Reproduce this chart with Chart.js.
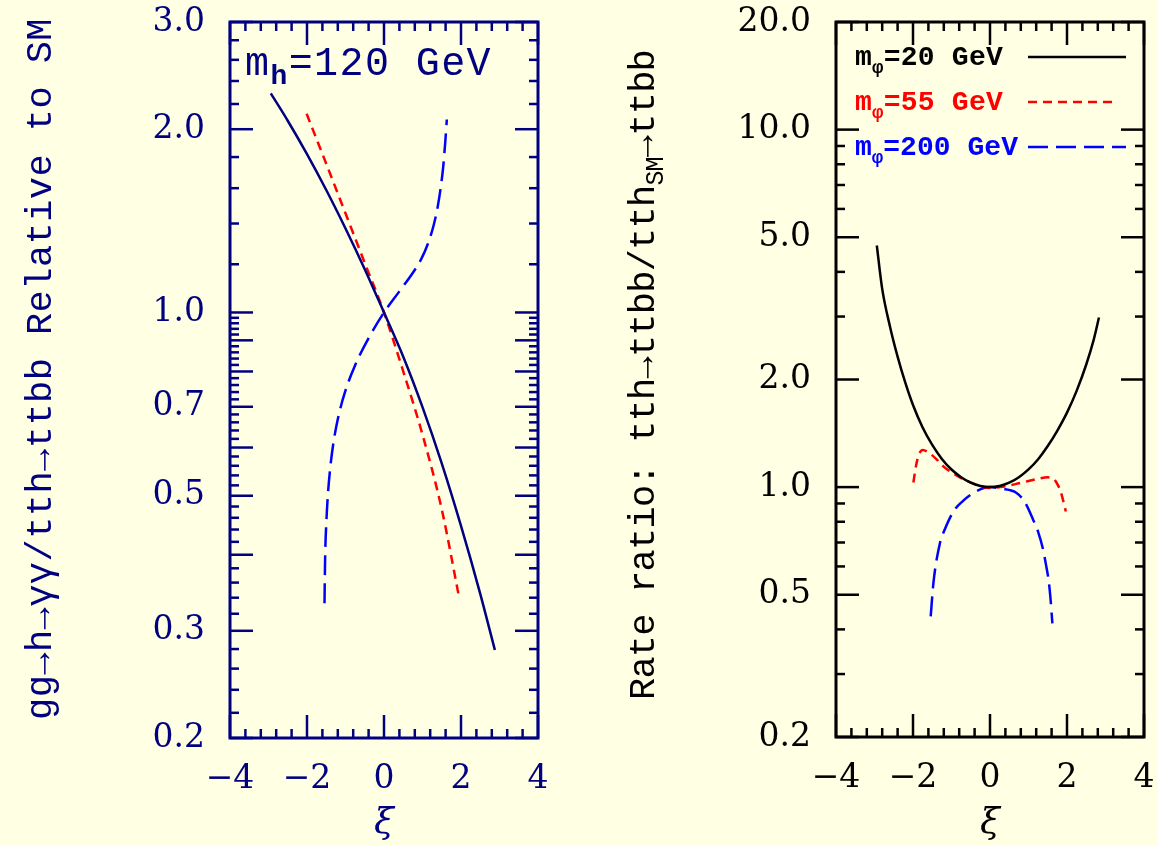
<!DOCTYPE html>
<html>
<head>
<meta charset="utf-8">
<script src="https://cdn.jsdelivr.net/npm/chart.js@4.4.0/dist/chart.umd.min.js"></script>
<style>
  html, body { margin: 0; padding: 0; background: #ffffe4; }
  #wrap { position: relative; width: 1158px; height: 846px; overflow: hidden; }
  canvas { position: absolute; top: 0; }
  #leftChart { left: 0; }
  #rightChart { left: 580px; }
</style>
</head>
<body>
<div id="wrap">
  <canvas id="leftChart" width="580" height="846"></canvas>
  <canvas id="rightChart" width="578" height="846"></canvas>
</div>
<script>
const NAVY = '#000080'
const SERIF = 'DejaVu Serif'
const MONO = 'Liberation Mono'

// left panel, m_h = 120 GeV
const leftXiSolid = [-2.94, -2.5, -2.0, -1.5, -1.0, -0.5, 0, 0.5, 1.0, 1.5, 2.0, 2.5, 2.88]
const leftSolid = [2.29, 2.065, 1.82, 1.589, 1.374, 1.178, 1.0, 0.846, 0.699, 0.565, 0.446, 0.345, 0.279]
const leftXiRed = [-2.01, -1.5, -1.0, -0.5, 0, 0.5, 1.0, 1.5, 1.96]
const leftRed = [2.12, 1.755, 1.455, 1.206, 1.0, 0.80, 0.63, 0.475, 0.338]
const leftXiBlue = [-1.545, -1.537, -1.525, -1.50, -1.462, -1.405, -1.32, -1.195, -1.01, -0.75, -0.41, 0, 0.375, 0.75, 0.96, 1.14, 1.29, 1.395, 1.48, 1.537, 1.594, 1.632]
const leftBlue = [0.333, 0.368, 0.407, 0.449, 0.497, 0.549, 0.607, 0.670, 0.741, 0.819, 0.905, 1.0, 1.078, 1.162, 1.221, 1.297, 1.391, 1.492, 1.616, 1.733, 1.916, 2.075]

// right panel, m_phi = 20 / 55 / 200 GeV
const rightXiBlack = [-2.94, -2.8, -2.6, -2.4, -2.2, -2.0, -1.75, -1.5, -1.25, -1.0, -0.75, -0.5, -0.25, 0, 0.25, 0.5, 0.75, 1.0, 1.25, 1.5, 1.75, 2.0, 2.25, 2.5, 2.7, 2.83]
const rightBlack = [4.74, 3.585, 2.82, 2.318, 1.96, 1.697, 1.468, 1.312, 1.199, 1.12, 1.066, 1.029, 1.0075, 1.0, 1.0075, 1.029, 1.066, 1.121, 1.197, 1.303, 1.44, 1.616, 1.859, 2.203, 2.599, 2.98]
const rightXiRed = [-1.99, -1.92, -1.85, -1.75, -1.6, -1.4, -1.2, -1.0, -0.75, -0.5, -0.25, 0, 0.25, 0.5, 0.75, 1.0, 1.25, 1.5, 1.62, 1.75, 1.85, 1.97]
const rightRed = [1.03, 1.15, 1.23, 1.27, 1.25, 1.20, 1.14, 1.10, 1.06, 1.03, 1.005, 0.995, 1.0, 1.01, 1.025, 1.04, 1.055, 1.065, 1.06, 1.02, 0.96, 0.855]
const rightXiBlue = [-1.54, -1.47, -1.30, -1.2, -0.95, -0.7, -0.43, 0, 0.3, 0.69, 0.9, 1.12, 1.25, 1.38, 1.45, 1.52, 1.57, 1.62]
const rightBlue = [0.435, 0.539, 0.698, 0.75, 0.855, 0.915, 0.963, 1.0, 0.99, 0.963, 0.91, 0.811, 0.75, 0.668, 0.61, 0.551, 0.49, 0.416]

// axes
const xLabels = [-4, -2, 0, 2, 4]
const leftYLabels = [0.2, 0.3, 0.5, 0.7, 1, 2, 3]
const rightYLabels = [0.2, 0.5, 1, 2, 5, 10, 20]
const rightYMinor = [0.3, 0.4, 0.6, 0.7, 0.8, 0.9, 3, 4, 6, 7, 8, 9]

function leftYTickMarks () {
  const marks = []
  for (let i = 10; i <= 50; i++) marks.push({ v: i / 50, long: i % 5 === 0 })
  for (let i = 6; i <= 15; i++) marks.push({ v: i / 5, long: i % 5 === 0 })
  return marks
}

function xTickMarks () {
  const marks = []
  for (let i = 0; i <= 20; i++) marks.push({ v: -4 + i * 0.4, long: i % 5 === 0 })
  return marks
}

function points (xs, ys) {
  return xs.map((x, i) => ({ x, y: ys[i] }))
}

function fmtX (v) {
  return v < 0 ? '\u2212' + Math.abs(v) : String(v)
}

function noPad (s) {
  s.paddingTop = 0
  s.paddingBottom = 0
  s.paddingLeft = 0
  s.paddingRight = 0
}

function drawRich (ctx, spans, x, y, rot, target, color) {
  ctx.save()
  ctx.translate(x, y)
  ctx.rotate(rot)
  ctx.fillStyle = color
  ctx.textBaseline = 'alphabetic'
  ctx.letterSpacing = '0px'
  let natural = 0
  let count = 0
  spans.forEach(s => {
    ctx.font = `${s.weight || 'normal'} ${s.size}px "${MONO}"`
    natural += ctx.measureText(s.text).width
    count += [...s.text].length
  })
  const ls = (target - natural) / count
  let cx = rot ? -target / 2 : 0
  spans.forEach(s => {
    ctx.font = `${s.weight || 'normal'} ${s.size}px "${MONO}"`
    ctx.letterSpacing = '0px'
    const w = ctx.measureText(s.text).width
    ctx.letterSpacing = ls + 'px'
    ctx.fillText(s.text, cx, s.dy || 0)
    cx += w + ls * [...s.text].length
  })
  ctx.restore()
}

function line (ctx, x1, y1, x2, y2, dash) {
  ctx.setLineDash(dash || [])
  ctx.beginPath()
  ctx.moveTo(x1, y1)
  ctx.lineTo(x2, y2)
  ctx.stroke()
}

function framePlugin (color, yMarks, extra) {
  return {
    id: 'frame',
    afterDraw (chart) {
      const { ctx, chartArea: a, scales } = chart
      ctx.save()
      ctx.strokeStyle = color
      ctx.lineWidth = 2.5
      yMarks.forEach(t => {
        const y = scales.y.getPixelForValue(t.v)
        const len = t.long ? 23 : 9
        line(ctx, a.left, y, a.left + len, y)
        line(ctx, a.right, y, a.right - len, y)
      })
      xTickMarks().forEach(t => {
        const x = scales.x.getPixelForValue(t.v)
        const len = t.long ? 23 : 9
        line(ctx, x, a.bottom, x, a.bottom - len)
        line(ctx, x, a.top, x, a.top + len)
      })
      ctx.lineWidth = 3
      ctx.strokeRect(a.left, a.top, a.right - a.left, a.bottom - a.top)
      ctx.fillStyle = color
      ctx.font = `italic 36px "${SERIF}"`
      ctx.textAlign = 'center'
      ctx.textBaseline = 'middle'
      ctx.fillText('\u03be', (a.left + a.right) / 2, 824)
      ctx.restore()
      extra(ctx, a)
    }
  }
}

function makeChart (id, cfg) {
  return new Chart(document.getElementById(id), {
    type: 'line',
    data: { datasets: cfg.datasets },
    options: {
      responsive: false,
      animation: false,
      layout: { padding: { top: cfg.padTop, right: cfg.padRight, left: 0, bottom: 0 } },
      elements: { point: { radius: 0 }, line: { cubicInterpolationMode: 'monotone' } },
      plugins: { legend: { display: false }, tooltip: { enabled: false } },
      scales: {
        x: {
          type: 'linear',
          min: -4,
          max: 4,
          grid: { display: false },
          border: { display: false },
          afterFit: s => { s.height = cfg.xHeight; noPad(s) },
          afterBuildTicks: s => { s.ticks = xLabels.map(v => ({ value: v })) },
          ticks: {
            color: cfg.color,
            padding: 14,
            maxRotation: 0,
            autoSkip: false,
            font: { family: SERIF, size: 33 },
            callback: v => fmtX(v)
          }
        },
        y: {
          type: 'logarithmic',
          min: cfg.yMin,
          max: cfg.yMax,
          grid: { display: false },
          border: { display: false },
          afterFit: s => { s.width = cfg.yWidth; noPad(s) },
          afterBuildTicks: s => { s.ticks = cfg.yLabels.map(v => ({ value: v })) },
          ticks: {
            color: cfg.color,
            padding: 17,
            autoSkip: false,
            font: { family: SERIF, size: 33 },
            callback: v => v.toFixed(1)
          }
        }
      }
    },
    plugins: [framePlugin(cfg.color, cfg.yMarks, cfg.extra)]
  })
}

makeChart('leftChart', {
  color: NAVY,
  padTop: 22,
  padRight: 42,
  xHeight: 108,
  yWidth: 230,
  yMin: 0.2,
  yMax: 3,
  yLabels: leftYLabels,
  yMarks: leftYTickMarks(),
  datasets: [
    { data: points(leftXiSolid, leftSolid), borderColor: NAVY, borderWidth: 2.5 },
    { data: points(leftXiRed, leftRed), borderColor: '#ff0000', borderWidth: 2.5, borderDash: [9, 6] },
    { data: points(leftXiBlue, leftBlue), borderColor: '#0000ff', borderWidth: 2.5, borderDash: [20, 8] }
  ],
  extra: (ctx, a) => {
    drawRich(ctx, [
      { text: 'm', size: 40 },
      { text: 'h', size: 28, dy: 9, weight: 'bold' },
      { text: '=120 GeV', size: 40 }
    ], 245, 75, 0, 247, NAVY)
    drawRich(ctx, [{ text: 'gg\u2192h\u2192\u03b3\u03b3/tth\u2192ttbb Relative to SM', size: 37 }],
      51, 369, -Math.PI / 2, 702, NAVY)
  }
})

makeChart('rightChart', {
  color: '#000000',
  padTop: 22,
  padRight: 14,
  xHeight: 109,
  yWidth: 256,
  yMin: 0.2,
  yMax: 20,
  yLabels: rightYLabels,
  yMarks: rightYLabels.map(v => ({ v, long: true })).concat(rightYMinor.map(v => ({ v, long: false }))),
  datasets: [
    { data: points(rightXiBlack, rightBlack), borderColor: '#000000', borderWidth: 2.5 },
    { data: points(rightXiRed, rightRed), borderColor: '#ff0000', borderWidth: 2.5, borderDash: [9, 6] },
    { data: points(rightXiBlue, rightBlue), borderColor: '#0000ff', borderWidth: 2.5, borderDash: [20, 8] }
  ],
  extra: (ctx, a) => {
    const legend = [
      { label: '=20 GeV', color: '#000000', y: 65, w: 148, dash: [], end: 1126 },
      { label: '=55 GeV', color: '#ff0000', y: 110, w: 148, dash: [9, 6], end: 1118 },
      { label: '=200 GeV', color: '#0000ff', y: 155, w: 163, dash: [20, 8], end: 1126 }
    ]
    legend.forEach(l => {
      drawRich(ctx, [
        { text: 'm', size: 28, weight: 'bold' },
        { text: '\u03c6', size: 19, dy: 8, weight: 'bold' },
        { text: l.label, size: 28, weight: 'bold' }
      ], 855 - 580, l.y, 0, l.w, l.color)
      ctx.save()
      ctx.strokeStyle = l.color
      ctx.lineWidth = 2.5
      line(ctx, 1028 - 580, l.y - 8, l.end - 580, l.y - 8, l.dash)
      ctx.restore()
    })
    drawRich(ctx, [
      { text: 'Rate ratio: tth\u2192ttbb/tth', size: 37 },
      { text: 'SM', size: 25, dy: 9 },
      { text: '\u2192ttbb', size: 37 }
    ], 654 - 580, 375, -Math.PI / 2, 650, '#000000')
  }
})
</script>
</body>
</html>
